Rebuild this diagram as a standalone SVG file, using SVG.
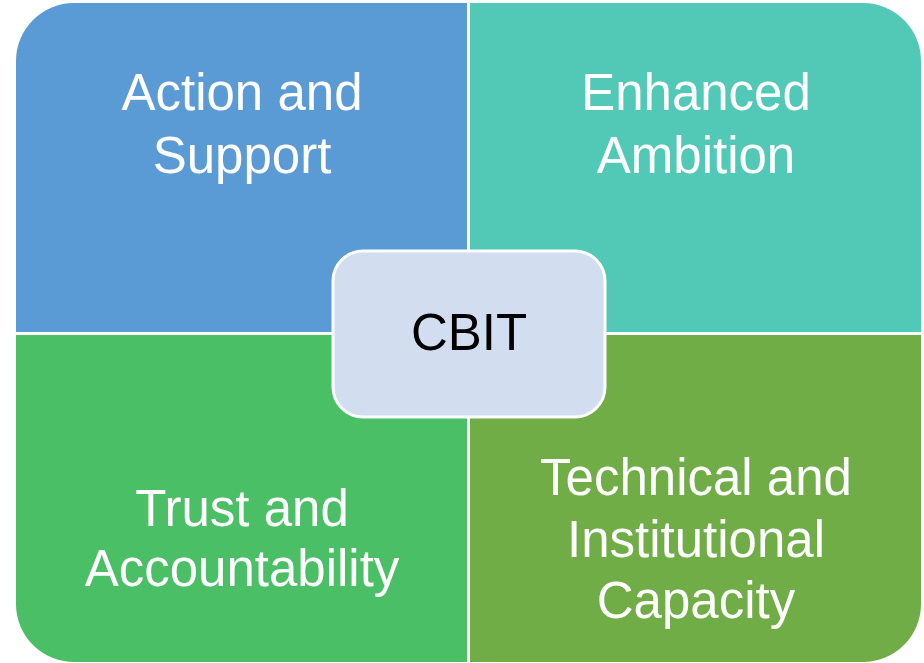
<svg xmlns="http://www.w3.org/2000/svg" width="924" height="663" viewBox="0 0 924 663">
<style>
.lbl{font-family:"Liberation Sans",Arial,sans-serif;font-size:51px;fill:#FFFFFF;text-anchor:middle}
.ctr{font-family:"Liberation Sans",Arial,sans-serif;font-size:51px;fill:#000000;text-anchor:middle}
</style>
<rect width="924" height="663" fill="#FFFFFF"/>
<g id="node-action">
<path d="M16,332 V61 A58,58 0 0 1 74,3 H467 V332 Z" fill="#5B9BD5"/>
<text class="lbl" x="242" y="110">Action and</text>
<text class="lbl" x="242" y="173">Support</text>
</g>
<g id="node-ambition">
<path d="M470,3 H863 A58,58 0 0 1 921,61 V332 H470 Z" fill="#52C9B6"/>
<text class="lbl" x="696" y="110">Enhanced</text>
<text class="lbl" x="696" y="173">Ambition</text>
</g>
<g id="node-trust">
<path d="M16,335 H467 V662 H74 A58,58 0 0 1 16,604 Z" fill="#4ABF66"/>
<text class="lbl" x="242" y="526">Trust and</text>
<text class="lbl" x="242" y="586">Accountability</text>
</g>
<g id="node-capacity">
<path d="M470,335 H921 V604 A58,58 0 0 1 863,662 H470 Z" fill="#70AD47"/>
<text class="lbl" x="696" y="495">Technical and</text>
<text class="lbl" x="696" y="557">Institutional</text>
<text class="lbl" x="696" y="618">Capacity</text>
</g>
<g id="connectors"></g>
<g id="node-cbit">
<rect x="333" y="251" width="272" height="166" rx="30" ry="30" fill="#D2DEEF" stroke="#FFFFFF" stroke-width="3"/>
<text class="ctr" x="469" y="350">CBIT</text>
</g>
</svg>
